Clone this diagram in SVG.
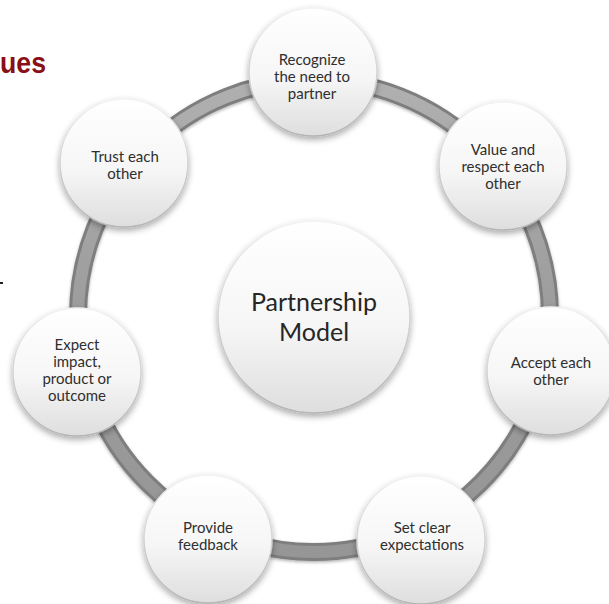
<svg xmlns="http://www.w3.org/2000/svg" width="609" height="604" viewBox="0 0 609 604">
  <defs>
    <linearGradient id="ball" x1="0" y1="0" x2="0" y2="1">
      <stop offset="0" stop-color="#ffffff"/>
      <stop offset="0.55" stop-color="#f6f6f6"/>
      <stop offset="1" stop-color="#dedede"/>
    </linearGradient>
    <linearGradient id="rim" x1="0" y1="0" x2="0" y2="1">
      <stop offset="0" stop-color="#f2f2f2"/>
      <stop offset="1" stop-color="#b4b4b4"/>
    </linearGradient>
    <linearGradient id="tube" x1="0" y1="0" x2="0" y2="1">
      <stop offset="0" stop-color="#b0b0b0"/>
      <stop offset="0.5" stop-color="#9c9c9c"/>
      <stop offset="1" stop-color="#969696"/>
    </linearGradient>
    <filter id="shadow" x="-20%" y="-20%" width="140%" height="145%">
      <feDropShadow dx="0" dy="3" stdDeviation="3" flood-color="#000" flood-opacity="0.33"/>
    </filter>
    <filter id="tubeShadow" x="-10%" y="-10%" width="120%" height="120%">
      <feDropShadow dx="0" dy="1.5" stdDeviation="1.5" flood-color="#000" flood-opacity="0.3"/>
    </filter>
  </defs>
  <style>
    .ball { fill: url(#ball); stroke: url(#rim); stroke-width: 1.5; filter: url(#shadow); }
    .lbl { font-family: Lato, "Liberation Sans", sans-serif; font-size: 15px; fill: #2f2f2f; text-anchor: middle; }
    .big { font-family: Lato, "Liberation Sans", sans-serif; font-size: 25px; fill: #262626; text-anchor: middle; }
    .title { font-family: "Liberation Sans", Arial, sans-serif; font-weight: bold; font-size: 30px; fill: #8a0f17; }
  </style>
  <rect width="609" height="604" fill="#ffffff"/>

  <!-- heading fragment and stray mark at the left edge -->
  <text class="title" x="0" y="73" textLength="46" lengthAdjust="spacingAndGlyphs">ues</text>
  <rect x="0" y="282" width="3" height="2" fill="#222"/>

  <!-- connecting ring -->
  <g id="connectors">
    <circle cx="314" cy="316" r="236" fill="none" stroke="#7e7e7e" stroke-width="18" filter="url(#tubeShadow)"/>
    <circle cx="314" cy="316" r="236" fill="none" stroke="url(#tube)" stroke-width="12"/>
  </g>

  <g id="center">
    <circle class="ball" cx="314" cy="317" r="96"/>
    <text class="big" x="314" y="311">Partnership</text>
    <text class="big" x="314" y="341">Model</text>
  </g>

  <g id="recognize">
    <circle class="ball" cx="313" cy="72" r="64"/>
    <text class="lbl" x="312" y="65">Recognize</text>
    <text class="lbl" x="312" y="82">the need to</text>
    <text class="lbl" x="312" y="99">partner</text>
  </g>

  <g id="value">
    <circle class="ball" cx="503" cy="166" r="64"/>
    <text class="lbl" x="503" y="155">Value and</text>
    <text class="lbl" x="503" y="172">respect each</text>
    <text class="lbl" x="503" y="189">other</text>
  </g>

  <g id="accept">
    <circle class="ball" cx="551" cy="371" r="64"/>
    <text class="lbl" x="551" y="368">Accept each</text>
    <text class="lbl" x="551" y="385">other</text>
  </g>

  <g id="expectations">
    <circle class="ball" cx="421" cy="540" r="64"/>
    <text class="lbl" x="422" y="533">Set clear</text>
    <text class="lbl" x="422" y="550">expectations</text>
  </g>

  <g id="feedback">
    <circle class="ball" cx="208" cy="539" r="64"/>
    <text class="lbl" x="208" y="533">Provide</text>
    <text class="lbl" x="208" y="550">feedback</text>
  </g>

  <g id="impact">
    <circle class="ball" cx="77" cy="372" r="64"/>
    <text class="lbl" x="77" y="350">Expect</text>
    <text class="lbl" x="77" y="367">impact,</text>
    <text class="lbl" x="77" y="384">product or</text>
    <text class="lbl" x="77" y="401">outcome</text>
  </g>

  <g id="trust">
    <circle class="ball" cx="124" cy="163" r="64"/>
    <text class="lbl" x="125" y="162">Trust each</text>
    <text class="lbl" x="125" y="179">other</text>
  </g>
</svg>
